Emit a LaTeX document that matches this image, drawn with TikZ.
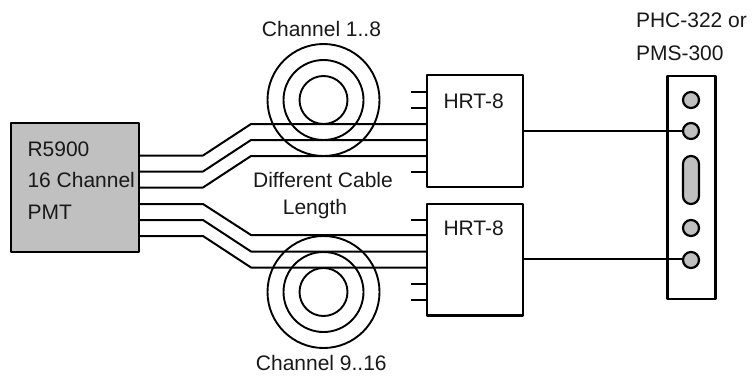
\documentclass[tikz,border=0pt]{standalone}
\usepackage{fontspec}
\setmainfont{Liberation Sans}
\definecolor{portgray}{HTML}{C0C0C0}
\tikzset{
  wire/.style={draw=black,line width=2pt,line join=round},
  coil/.style={draw=black,line width=1.9pt,circle,inner sep=0pt,outer sep=0pt},
  block/.style={draw=black,line width=2.2pt,rectangle,inner sep=0pt,outer sep=0pt,line join=round},
  port/.style={draw=black,fill=portgray,line width=2.2pt,circle,minimum size=16pt,inner sep=0pt,outer sep=0pt},
  lab/.style={font=\fontsize{21pt}{21pt}\selectfont,inner sep=0pt,outer sep=0pt,text=black!90},
}
\begin{document}
\begin{tikzpicture}[x=1pt,y=-1pt]
\useasboundingbox (0,0) rectangle (752,375);
\fill[white] (0,0) rectangle (752,375);
% coils
\foreach \r [count=\i] in {48,80,112}{
  \node[coil,minimum size=\r pt] (coilA\i) at (323.5,100) {};
  \node[coil,minimum size=\r pt] (coilB\i) at (323.5,292) {};
}
% blocks
\node[block,fill=portgray,minimum width=128pt,minimum height=129pt] (pmt) at (75,187.5) {};
\node[block,minimum width=96pt,minimum height=112pt] (hrtA) at (475.3,131) {};
\node[block,minimum width=96pt,minimum height=111.5pt] (hrtB) at (475.3,259.8) {};
\node[block,minimum width=48pt,minimum height=223pt] (panel) at (691.5,187.5) {};
% ports
\node[port] (p1) at (691,100) {};
\node[port] (p2) at (691,131) {};
\node[port,rounded corners=8pt,minimum width=16pt,minimum height=48pt,rectangle] (pill) at (691,180) {};
\node[port] (p3) at (691,228) {};
\node[port] (p4) at (691,260) {};
% wire way points
\foreach \n/\x/\y in {a1/139/155.5,a2/139/171.5,a3/139/187.5,a4/139/204,a5/139/220,a6/139/236,
  b1/203/155.5,b2/203/171.5,b3/203/187.5,b4/203/204,b5/203/220,b6/203/236,
  c1/251/124,c2/251/140,c3/251/156,c4/251/251.5,c5/251/235,c6/251/267.5,
  s1/411/92,s2/411/108,s3/411/172,s4/411/220,s5/411/284,s6/411/300,w/683/258.5}{
  \coordinate (\n) at (\x,\y);
}
\draw[wire] (a1) -- (b1) -- (c1) -- (c1 -| hrtA.west);
\draw[wire] (a2) -- (b2) -- (c2) -- (c2 -| hrtA.west);
\draw[wire] (a3) -- (b3) -- (c3) -- (c3 -| hrtA.west);
\draw[wire] (a4) -- (b4) -- (c5) -- (c5 -| hrtB.west);
\draw[wire] (a5) -- (b5) -- (c4) -- (c4 -| hrtB.west);
\draw[wire] (a6) -- (b6) -- (c6) -- (c6 -| hrtB.west);
% stubs
\draw[wire] (s1) -- (s1 -| hrtA.west);
\draw[wire] (s2) -- (s2 -| hrtA.west);
\draw[wire] (s3) -- (s3 -| hrtA.west);
\draw[wire] (s4) -- (s4 -| hrtB.west);
\draw[wire] (s5) -- (s5 -| hrtB.west);
\draw[wire] (s6) -- (s6 -| hrtB.west);
% outputs
\draw[wire] (hrtA.east) -- (p2);
\draw[wire] (w -| hrtB.east) -- (w);
% labels
\node[lab,anchor=base west] (t1) at (27.5,156) {R5900};
\node[lab,anchor=base west] (t2) at (27.5,187.5) {16 Channel};
\node[lab,anchor=base west] (t3) at (27.5,219) {PMT};
\node[lab,anchor=base] (t4) at (323,187) {Different Cable};
\node[lab,anchor=base] (t5) at (315,214) {Length};
\node[lab,anchor=base] (t6) at (321.5,36) {Channel 1..8};
\node[lab,anchor=base] (t7) at (321.3,370.5) {Channel 9..16};
\node[lab,anchor=base west] (t8) at (443.5,108) {HRT-8};
\node[lab,anchor=base west] (t9) at (443.5,235.5) {HRT-8};
\node[lab,anchor=base west] (t10) at (636,27.5) {PHC-322 or};
\node[lab,anchor=base west] (t11) at (636,60) {PMS-300};
\end{tikzpicture}
\end{document}
